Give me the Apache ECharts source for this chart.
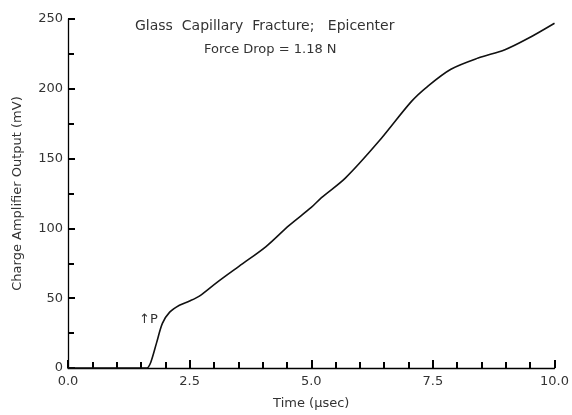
<!DOCTYPE html>
<html>
<head>
<meta charset="UTF-8">
<title>Glass Capillary Fracture</title>
<script src="https://cdn.jsdelivr.net/npm/echarts@6/dist/echarts.min.js"></script>
<style>
  html, body { margin: 0; padding: 0; background: #fff; }
  #chart { width: 572px; height: 415px; }
</style>
</head>
<body>
<div id="chart"></div>
<script>
// time in microseconds, output in mV
const timeUs = [0, 0.5, 1.0, 1.5, 1.62, 1.7, 1.82, 1.94, 2.09, 2.29, 2.5, 2.7, 3.05, 3.52, 4.07, 4.54, 5.0, 5.21, 5.7, 6.38, 7.06, 7.4, 7.87, 8.43, 8.98, 9.45, 10.0];
const outputMv = [0, 0, 0, 0, 0, 4, 18, 32, 40, 45, 48, 51.5, 61, 73, 87, 102, 115, 122, 136, 162, 191, 202, 214, 222, 228, 236, 247];
const titleLines = ['Glass  Capillary  Fracture;   Epicenter', 'Force Drop = 1.18 N'];

const font = '"DejaVu Sans", Arial, sans-serif';
const ink = '#333';
const axisInk = '#000';

const chart = echarts.init(document.getElementById('chart'));

chart.setOption({
  animation: false,
  grid: { left: 68, right: 15, top: 19, bottom: 42 },
  xAxis: {
    type: 'value',
    min: 0, max: 10, interval: 2.5,
    name: 'Time (\u03bcsec)',
    nameLocation: 'middle',
    nameGap: 29,
    nameTextStyle: { color: ink, fontFamily: font, fontSize: 13 },
    axisLine: { show: true, lineStyle: { color: axisInk, width: 1.3 } },
    // ticks point up into the plot, a small one every 0.5
    axisTick: { show: true, inside: true, length: 8, lineStyle: { color: axisInk, width: 2 } },
    minorTick: { show: true, splitNumber: 5, length: 6, lineStyle: { color: axisInk, width: 2 } },
    axisLabel: {
      color: ink, fontFamily: font, fontSize: 13, margin: 7,
      formatter: v => v.toFixed(1)
    },
    splitLine: { show: false }
  },
  yAxis: {
    type: 'value',
    min: 0, max: 250, interval: 50,
    name: 'Charge Amplifier Output (mV)',
    nameLocation: 'middle',
    nameRotate: 90,
    nameGap: 44,
    nameTextStyle: { color: ink, fontFamily: font, fontSize: 13 },
    axisLine: { show: true, lineStyle: { color: axisInk, width: 1.3 } },
    axisTick: { show: true, inside: true, length: 7, lineStyle: { color: axisInk, width: 2 } },
    minorTick: { show: true, splitNumber: 2, length: 6, lineStyle: { color: axisInk, width: 2 } },
    axisLabel: { color: ink, fontFamily: font, fontSize: 13, margin: 5 },
    splitLine: { show: false }
  },
  graphic: [
    {
      type: 'text', left: 135, top: 19,
      style: { text: titleLines[0], fill: ink, font: '14px ' + font }
    },
    {
      type: 'text', left: 204, top: 43,
      style: { text: titleLines[1], fill: ink, font: '13px ' + font }
    },
    {
      type: 'text', left: 139, top: 313,
      style: { text: '\u2191P', fill: ink, font: '13px ' + font }
    }
  ],
  series: [{
    type: 'line',
    data: timeUs.map((t, i) => [t, outputMv[i]]),
    showSymbol: false,
    smooth: 0.3,
    lineStyle: { color: '#111', width: 1.6 }
  }]
});
</script>
</body>
</html>
